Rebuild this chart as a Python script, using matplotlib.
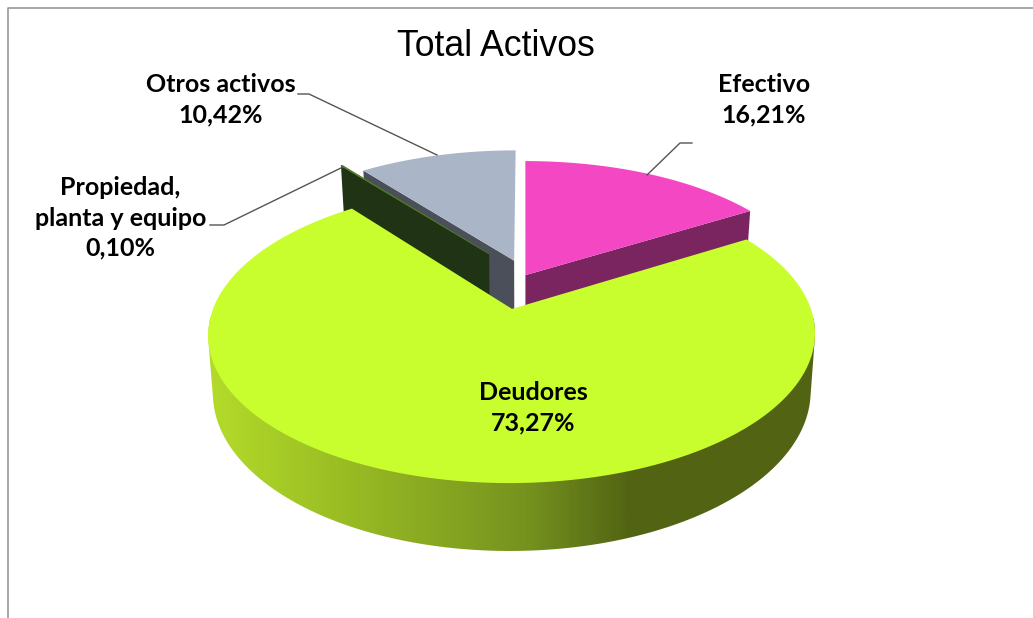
import numpy as np
import matplotlib
matplotlib.use("Agg")
import matplotlib.pyplot as plt
from matplotlib.colors import LinearSegmentedColormap
from matplotlib.patches import Polygon

categories = ["Efectivo", "Deudores", "Propiedad,\nplanta y equipo", "Otros activos"]
values = [16.21, 73.27, 0.10, 10.42]
explode = [0.003, 0.245, 0.21, 0.12]
top_colors = ["#f347c3", "#c8fe2e", "#4f7a22", "#aab6c8"]
cut_colors = ["#7a2560", "#506010", "#213315", "#4a4f5a"]
title = "Total Activos"

# projection of the pie disc into figure pixels
X0, Y0 = 525.0, 275.5
A, B, D, K = 287.0, 133.0, 54.0, 0.165
BOTTOM_SCALE = 0.985


def project(u, v, z=0.0):
    w = 1 - K * v
    s = 1 + (BOTTOM_SCALE - 1) * z
    return X0 + A * s * u / w, Y0 + (B * v + D * z) / w


def slice_geometry(i):
    cum = np.cumsum([0] + values)
    a0 = np.radians(cum[i] * 3.6)
    a1 = np.radians(cum[i + 1] * 3.6)
    mid = (a0 + a1) / 2
    cu, cv = explode[i] * np.sin(mid), -explode[i] * np.cos(mid)
    return a0, a1, cu, cv


def arc(i, z=0.0, n=300):
    a0, a1, cu, cv = slice_geometry(i)
    t = np.linspace(a0, a1, n)
    x, y = project(cu + np.sin(t), cv - np.cos(t), z)
    return np.column_stack([x, y])


def front_arc(i, z):
    # only the near part of the rim, the rest of the wall is hidden anyway
    a0, a1, cu, cv = slice_geometry(i)
    t = np.linspace(a0, a1, 300)
    u, v = cu + np.sin(t), cv - np.cos(t)
    x, y = project(u, v, z)
    return np.column_stack([x, y])[v >= 0.3]


def hull(points):
    pts = sorted(map(tuple, points))

    def half(seq):
        out = []
        for p in seq:
            while len(out) > 1 and ((out[-1][0] - out[-2][0]) * (p[1] - out[-2][1])
                                    - (out[-1][1] - out[-2][1]) * (p[0] - out[-2][0])) <= 0:
                out.pop()
            out.append(p)
        return out[:-1]

    return np.array(half(pts) + half(pts[::-1]))


def top_face(i):
    a0, a1, cu, cv = slice_geometry(i)
    return np.vstack([project(cu, cv), arc(i)])


def radial_face(i, end):
    a0, a1, cu, cv = slice_geometry(i)
    a = a1 if end else a0
    return np.array([
        project(cu, cv),
        project(cu + np.sin(a), cv - np.cos(a)),
        project(cu + np.sin(a), cv - np.cos(a), 1),
        project(cu, cv, 1),
    ])


fig = plt.figure(figsize=(10.33, 6.18), dpi=100)
ax = fig.add_axes([0, 0, 1, 1])
ax.axis("off")

# chart frame
ax.plot([7.5, 7.5, 1033], [618, 7.5, 7.5], color="#8f8f8f", lw=1.1)

# back slices first
ax.add_patch(Polygon(radial_face(0, True), fc=cut_colors[0], ec="none"))
ax.add_patch(Polygon(top_face(0), fc=top_colors[0], ec="none"))
ax.add_patch(Polygon(radial_face(3, False), fc=cut_colors[3], ec="none"))
ax.add_patch(Polygon(top_face(3), fc=top_colors[3], ec="none"))
ax.add_patch(Polygon(radial_face(2, False), fc=cut_colors[2], ec="none"))
ax.add_patch(Polygon(top_face(2), fc=top_colors[2], ec=top_colors[2], lw=0.5))

# Deudores wall with the horizontal shading
wall = Polygon(hull(np.vstack([front_arc(1, 0), front_arc(1, 1)])), fc="none", ec="none")
ax.add_patch(wall)
shade = LinearSegmentedColormap.from_list(
    "wall", [(0, "#b4dc2a"), (0.2, "#9cc024"), (0.52, "#76931f"), (0.69, "#526413"), (1, "#526413")]
)
im = ax.imshow(np.linspace(0, 1, 600).reshape(1, -1), cmap=shade, aspect="auto",
               extent=(205, 820, 600, 300), zorder=1.5)
im.set_clip_path(wall)
ax.add_patch(Polygon(top_face(1), fc=top_colors[1], ec="none", zorder=2))

# leader lines
leader = dict(color="#555555", lw=1, zorder=3)
ax.plot([647, 680, 692], [175, 143, 143], **leader)
ax.plot([298, 309, 437], [94, 94, 155], **leader)
ax.plot([210, 224, 343], [225, 225, 167], **leader)

ax.set_xlim(0, 1033)
ax.set_ylim(618, 0)

ax.text(495.5, 46, title, ha="center", va="center", fontsize=25.7,
        family="Liberation Sans", zorder=4)

label_pos = [(764, 100), (533, 408), (120.5, 218), (221, 100)]
for name, val, (lx, ly) in zip(categories, values, label_pos):
    txt = name + "\n" + f"{val:.2f}".replace(".", ",") + "%"
    ax.text(lx, ly, txt, ha="center", va="center", fontsize=18, fontweight="bold",
            family="Lato", color="black", linespacing=1.38, zorder=4)

fig.savefig("out.png", dpi=100)
